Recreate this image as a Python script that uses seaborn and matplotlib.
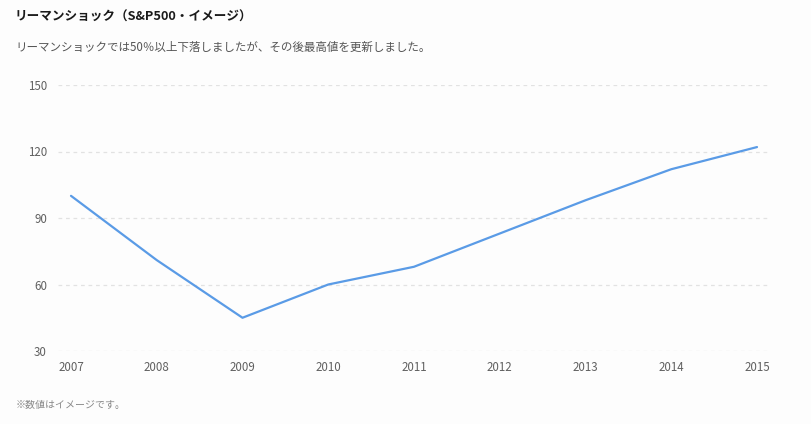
import matplotlib
matplotlib.use("Agg")
import matplotlib.pyplot as plt
import seaborn as sns
import pandas as pd

years = [2007, 2008, 2009, 2010, 2011, 2012, 2013, 2014, 2015]
values = [100, 71, 45, 60, 68, 83, 98, 112, 122]
yticks = [30, 60, 90, 120, 150]

title = "リーマンショック（S&P500・イメージ）"
subtitle = "リーマンショックでは50％以上下落しましたが、その後最高値を更新しました。"
footnote = "※数値はイメージです。"

sns.set_theme(style="white")
plt.rcParams['font.family'] = ['Noto Sans CJK JP', 'DejaVu Sans']

df = pd.DataFrame({"year": years, "value": values})

bg = "#fdfdfd"
fig = plt.figure(figsize=(8.11, 4.24), dpi=100, facecolor=bg)
ax = fig.add_axes([58/811, 1-351/424, (771-58)/811, (351-85)/424])
ax.set_facecolor(bg)

sns.lineplot(data=df, x="year", y="value", ax=ax, color="#5a9be6", linewidth=1.6)

ax.set_xlim(2007 - 13/85.75, 2015 + 14/85.75)
ax.set_ylim(30, 150)
ax.set_yticks(yticks)
ax.set_xticks(years)
ax.set_xticklabels([str(y) for y in years])
for s in ax.spines.values():
    s.set_visible(False)
ax.grid(axis="y", color="#e2e2e2", linestyle=(0, (3, 3)), linewidth=0.9)
ax.grid(axis="x", visible=False)
ax.set_axisbelow(True)
ax.tick_params(axis="both", length=0, labelsize=8.3, labelcolor="#606060")
ax.tick_params(axis="y", pad=8)
ax.tick_params(axis="x", pad=7)
ax.set_xlabel("")
ax.set_ylabel("")
for line in ax.lines:
    line.set_clip_on(False)

fig.text(15/811, 1-17/424, title, fontsize=9.1, fontweight="bold", color="#1a1a1a", va="center", ha="left")
fig.text(15/811, 1-47/424, subtitle, fontsize=8.3, color="#555555", va="center", ha="left")
fig.text(16/811, 1-405/424, footnote, fontsize=7.2, color="#888888", va="center", ha="left")

fig.savefig("out.png", dpi=100, facecolor=bg)
